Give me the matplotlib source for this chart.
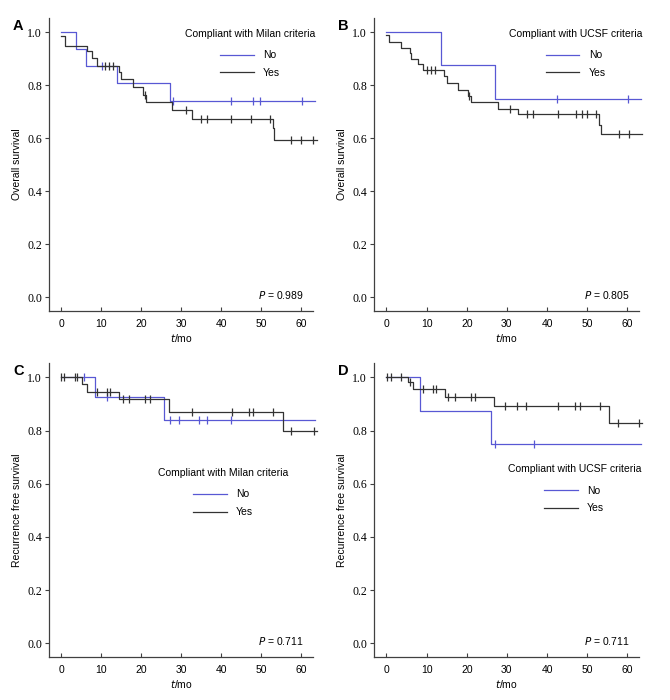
import numpy as np
import matplotlib.pyplot as plt

# ---- data (time in months, survival fraction) ----
# A: overall survival, Milan criteria
a_no_t = [0, 3.6, 6.1, 13.8, 27.2, 63.4]
a_no_s = [1.0, 0.938, 0.874, 0.807, 0.740, 0.740]
a_no_cens = [10.2, 27.8, 42.3, 47.8, 49.6, 60.2]
a_yes_t = [0, 0.9, 6.3, 7.6, 8.9, 14.3, 15.0, 18.0, 20.5, 21.1, 27.6, 32.6, 52.8, 53.2, 63.8]
a_yes_s = [0.985, 0.950, 0.930, 0.902, 0.873, 0.852, 0.823, 0.794, 0.765, 0.737, 0.708, 0.673, 0.638, 0.594, 0.594]
a_yes_cens = [11.0, 12.0, 13.0, 20.9, 31.2, 34.9, 36.3, 42.5, 47.3, 52.2, 57.5, 59.8, 63.0]

# B: overall survival, UCSF criteria
b_no_t = [0, 13.6, 27.0, 63.3]
b_no_s = [1.0, 0.875, 0.75, 0.75]
b_no_cens = [42.4, 60.2]
b_yes_t = [0, 0.7, 3.5, 5.8, 6.2, 7.8, 9.2, 14.3, 15.2, 17.8, 20.2, 21.0, 27.7, 32.8, 53.0, 53.5, 63.6]
b_yes_s = [0.99, 0.963, 0.941, 0.922, 0.899, 0.879, 0.858, 0.835, 0.809, 0.783, 0.76, 0.736, 0.712, 0.69, 0.65, 0.615, 0.615]
b_yes_cens = [10.0, 11.0, 12.2, 20.6, 30.8, 35.1, 36.6, 42.8, 47.3, 48.7, 49.9, 52.3, 58.0, 60.3]

# C: recurrence free survival, Milan criteria
c_no_t = [0, 8.5, 25.7, 63.3]
c_no_s = [1.0, 0.926, 0.841, 0.841]
c_no_cens = [5.7, 11.3, 27.1, 29.4, 34.5, 36.5, 42.3]
c_yes_t = [0, 5.1, 6.3, 14.3, 26.8, 55.3, 63.8]
c_yes_s = [1.0, 0.974, 0.946, 0.918, 0.871, 0.80, 0.80]
c_yes_cens = [0.0, 0.75, 3.3, 3.8, 8.9, 11.4, 12.2, 15.3, 17.0, 20.9, 22.1, 32.6, 42.7, 47.0, 47.8, 53.0, 57.4, 63.2]

# D: recurrence free survival, UCSF criteria
d_no_t = [0, 8.4, 26.1, 63.5]
d_no_s = [1.0, 0.875, 0.75, 0.75]
d_no_cens = [27.1, 36.8]
d_yes_t = [0, 5.3, 6.5, 14.6, 26.8, 55.5, 63.7]
d_yes_s = [1.0, 0.981, 0.956, 0.925, 0.892, 0.828, 0.828]
d_yes_cens = [0.2, 1.1, 3.7, 5.8, 9.0, 11.6, 12.3, 15.4, 17.0, 21.0, 22.1, 29.5, 32.6, 34.7, 42.7, 47.0, 48.1, 53.2, 57.7, 63.0]

panel_letters = ['A', 'B', 'C', 'D']
ylabels = ['Overall survival', 'Overall survival', 'Recurrence free survival', 'Recurrence free survival']
legend_titles = ['Compliant with Milan criteria', 'Compliant with UCSF criteria',
                 'Compliant with Milan criteria', 'Compliant with UCSF criteria']
p_values = ['0.989', '0.805', '0.711', '0.711']
xticks = [0, 10, 20, 30, 40, 50, 60]
yticks = [0.0, 0.2, 0.4, 0.6, 0.8, 1.0]

BLUE = '#5858d4'
BLACK = '#333333'
SANS = ['Liberation Sans', 'DejaVu Sans']
SERIF = ['Liberation Serif', 'DejaVu Serif']


def step_value(t, s, x):
    idx = np.searchsorted(np.asarray(t), x, side='right') - 1
    return np.asarray(s)[np.clip(idx, 0, len(s) - 1)]


def km(ax, t, s, cens, color, label):
    ax.step(t, s, where='post', color=color, lw=0.9, label=label, clip_on=False)
    ax.plot(cens, step_value(t, s, cens), ls='none', marker='|', ms=6,
            mew=0.9, color=color, clip_on=False)


fig = plt.figure(figsize=(6.7, 7.0), dpi=100)
# axes rectangles in figure fractions
boxes = [
    [49 / 670, 1 - 311 / 700, 264 / 670, 293 / 700],
    [374 / 670, 1 - 311 / 700, 265 / 670, 293 / 700],
    [49 / 670, 1 - 657 / 700, 264 / 670, 294 / 700],
    [374 / 670, 1 - 657 / 700, 265 / 670, 294 / 700],
]
curves = [
    (a_no_t, a_no_s, a_no_cens, a_yes_t, a_yes_s, a_yes_cens),
    (b_no_t, b_no_s, b_no_cens, b_yes_t, b_yes_s, b_yes_cens),
    (c_no_t, c_no_s, c_no_cens, c_yes_t, c_yes_s, c_yes_cens),
    (d_no_t, d_no_s, d_no_cens, d_yes_t, d_yes_s, d_yes_cens),
]
legend_pos = [(0.762, 0.962), (0.762, 0.962), (0.66, 0.642), (0.756, 0.655)]

for i in range(4):
    ax = fig.add_axes(boxes[i])
    nt, ns, nc, yt, ys, yc = curves[i]
    km(ax, nt, ns, nc, BLUE, 'No')
    km(ax, yt, ys, yc, BLACK, 'Yes')

    ax.set_xlim(-3.1, 62.9)
    ax.set_ylim(-0.052, 1.054)
    ax.spines['top'].set_visible(False)
    ax.spines['right'].set_visible(False)
    for sp in ['left', 'bottom']:
        ax.spines[sp].set_color('#404040')
        ax.spines[sp].set_linewidth(0.9)
    ax.set_xticks(xticks)
    ax.set_xticklabels([str(x) for x in xticks], fontfamily=SANS, fontsize=7.5)
    ax.set_yticks(yticks)
    ax.set_yticklabels(['%.1f' % y for y in yticks], fontfamily=SERIF, fontsize=8.5)
    ax.tick_params(axis='x', direction='in', length=3, width=0.8, color='#404040', pad=6)
    ax.tick_params(axis='y', direction='out', length=3, width=0.8, color='#404040', pad=2)

    ax.set_xlabel('$\\it{t}$/mo', fontfamily=SANS, fontsize=7.5, labelpad=2)
    ax.set_ylabel(ylabels[i], fontfamily=SANS, fontsize=7.5, labelpad=4)

    ax.text(60.5, 0.01, '$\\it{P}$ = ' + p_values[i], ha='right', va='center',
            fontfamily=SANS, fontsize=7.5)

    leg = ax.legend(title=legend_titles[i], loc='upper center',
                    bbox_to_anchor=legend_pos[i], frameon=False,
                    prop={'family': SANS, 'size': 7.5},
                    title_fontproperties={'family': SANS, 'size': 7.5},
                    handlelength=3.2, handletextpad=0.9, labelspacing=0.75,
                    borderpad=0, borderaxespad=0)
    leg._legend_box.sep = 8

    bx = boxes[i]
    fig.text(bx[0] - 36 / 670, bx[1] + bx[3] - 8 / 700, panel_letters[i],
             fontfamily=SANS, fontsize=10.5, fontweight='bold', va='center')

fig.savefig('out.png', dpi=100)
